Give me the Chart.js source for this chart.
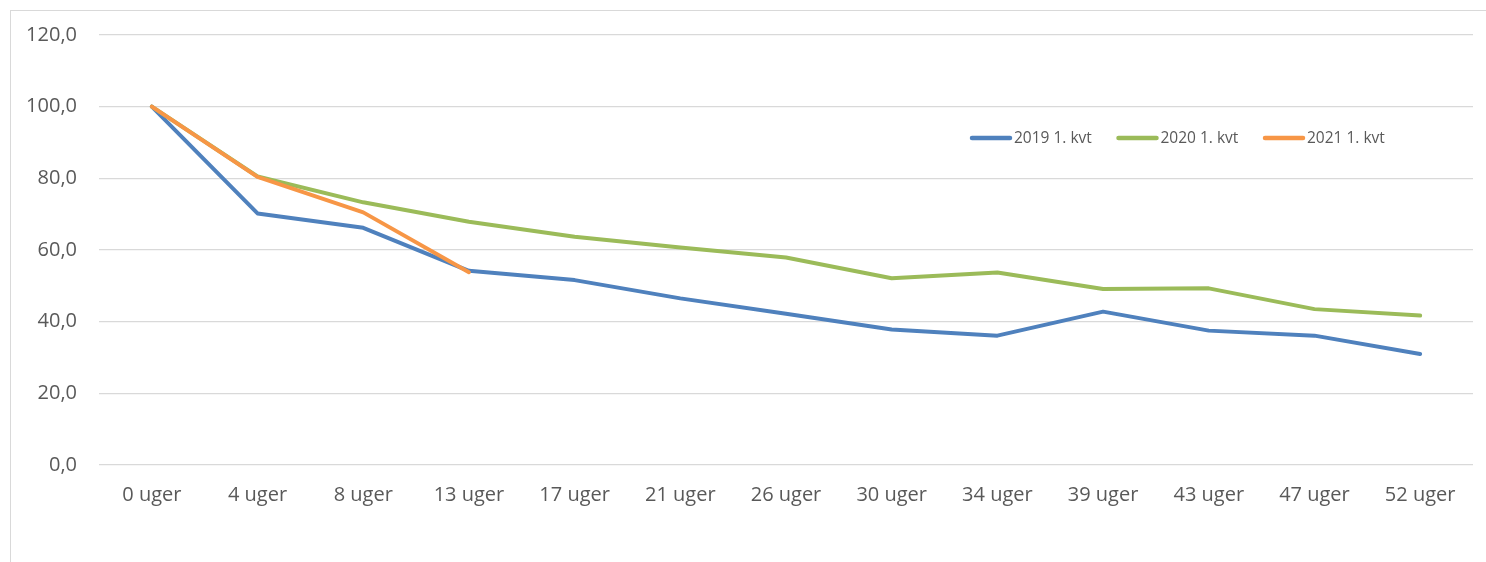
<!DOCTYPE html>
<html>
<head>
<meta charset="utf-8">
<script src="https://cdn.jsdelivr.net/npm/chart.js@4/dist/chart.umd.min.js"></script>
<style>
  html, body { margin: 0; padding: 0; background: #fff; overflow: hidden; }
  #wrap { position: absolute; left: 0; top: 0; width: 1486px; height: 562px; }
  #frame { position: absolute; left: 10px; top: 10px; width: 1500px; height: 600px; border: 1px solid #d9d9d9; box-sizing: border-box; pointer-events: none; }
  canvas { position: absolute; left: 0; top: 0; }
</style>
</head>
<body>
<div id="wrap">
  <div id="frame"></div>
  <canvas id="c" width="1486" height="562"></canvas>
</div>
<script>
const categories = ["0 uger","4 uger","8 uger","13 uger","17 uger","21 uger","26 uger","30 uger","34 uger","39 uger","43 uger","47 uger","52 uger"];
const seriesNames = ["2019 1. kvt","2020 1. kvt","2021 1. kvt"];
const values2019 = [100.0, 70.2, 66.2, 54.2, 51.6, 46.5, 42.2, 37.8, 36.1, 42.8, 37.5, 36.1, 31.0];
const values2020 = [100.0, 80.5, 73.3, 67.9, 63.7, 60.7, 57.9, 52.1, 53.7, 49.1, 49.3, 43.5, 41.7];
const values2021 = [100.0, 80.4, 70.5, 53.8];
const yTickValues = [0, 20, 40, 60, 80, 100, 120];

const colors = ["#4f81bd", "#9bbb59", "#f79646"];
const FONT = "'Open Sans', 'Liberation Sans', sans-serif";

const legendPlugin = {
  id: 'innerLegend',
  afterDraw(chart) {
    const ctx = chart.ctx;
    ctx.save();
    ctx.font = "15.5px " + FONT;
    ctx.textBaseline = 'middle';
    const y = 138;
    chart.data.datasets.forEach((ds, i) => {
      const x = 970 + i * 146.5;
      ctx.strokeStyle = ds.borderColor;
      ctx.lineWidth = 4.5;
      ctx.lineCap = 'round';
      ctx.beginPath();
      ctx.moveTo(x + 2, y);
      ctx.lineTo(x + 40, y);
      ctx.stroke();
      ctx.fillStyle = '#595959';
      ctx.fillText(ds.label, x + 44, y + 1);
    });
    ctx.restore();
  }
};

const datasets = [values2019, values2020, values2021].map((vals, i) => ({
  label: seriesNames[i],
  data: vals,
  borderColor: colors[i],
  backgroundColor: colors[i],
  borderWidth: 4,
  pointRadius: 0,
  pointHoverRadius: 0,
  tension: 0,
  fill: false,
  borderJoinStyle: 'round',
  borderCapStyle: 'round',
  order: 3 - i
}));

new Chart(document.getElementById('c'), {
  type: 'line',
  data: { labels: categories, datasets: datasets },
  options: {
    responsive: false,
    animation: false,
    events: [],
    layout: { padding: { left: 0, right: 13, top: 35, bottom: 0 } },
    plugins: {
      legend: { display: false },
      tooltip: { enabled: false },
      title: { display: false }
    },
    scales: {
      x: {
        offset: true,
        grid: { display: false, drawTicks: false },
        border: { display: false },
        ticks: {
          color: '#595959',
          font: { family: FONT, size: 20 },
          padding: 18,
          maxRotation: 0,
          autoSkip: false
        },
        afterFit(scale) { scale.height = 97; }
      },
      y: {
        min: 0,
        max: 120,
        afterBuildTicks(scale) { scale.ticks = yTickValues.map(v => ({ value: v })); },
        grid: { color: '#d9d9d9', lineWidth: 1.3, drawTicks: false },
        border: { display: false },
        ticks: {
          color: '#595959',
          font: { family: FONT, size: 20 },
          padding: 22,
          callback: (v) => Number(v).toFixed(1).replace('.', ',')
        },
        afterFit(scale) { scale.width = 99; }
      }
    }
  },
  plugins: [legendPlugin]
});
</script>
</body>
</html>
